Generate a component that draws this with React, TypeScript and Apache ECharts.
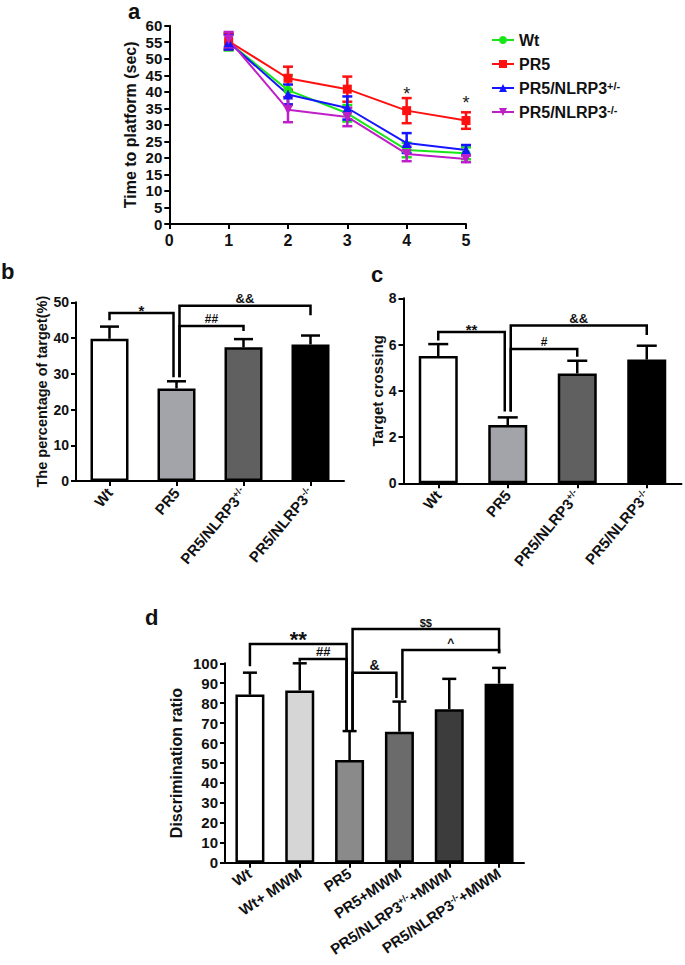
import React, { useEffect, useRef } from "react";
import * as echarts from "echarts";

const FONT = '"Liberation Sans", Arial, Helvetica, sans-serif';

// ---------- Panel a: Morris water maze escape latency ----------
const days = [1, 2, 3, 4, 5];
const groupsA = ["Wt", "PR5", "PR5/NLRP3+/-", "PR5/NLRP3-/-"];
const wtMean = [55.0, 40.5, 33.5, 22.4, 21.4];
const wtSem = [2.5, 4.5, 2.5, 2.2, 1.8];
const pr5Mean = [55.3, 44.1, 40.8, 34.3, 31.3];
const pr5Sem = [2.5, 3.5, 3.8, 3.8, 2.5];
const hetMean = [55.0, 39.2, 35.1, 24.5, 22.4];
const hetSem = [2.2, 3.0, 3.5, 3.0, 1.5];
const koMean = [55.8, 34.6, 32.4, 21.2, 19.7];
const koSem = [2.3, 3.8, 2.8, 2.2, 1.0];
const starDays = [4, 5];
const starLevels = [39.3, 36.6];
const yTicksA = { min: 0, max: 60, interval: 5 };

// ---------- Panel b: percentage of time in target quadrant ----------
const catsB = ["Wt", "PR5", "PR5/NLRP3+/-", "PR5/NLRP3-/-"];
const targetPct = [39.8, 25.9, 37.4, 38.2];
const targetPctSem = [3.4, 2.0, 2.3, 2.5];
// [fromCat, fromSide, fromDrop, toCat, toSide, toDrop, level]
const bracketsB = [
  [0, 0, 45.0, 1, -1, 29.0, 47.0],
  [1, 1, 29.0, 2, 0, 42.0, 43.4],
  [1, 1, 29.0, 3, 0, 46.4, 49.0],
];
const bracketLabelsB = ["*", "##", "&&"];

// ---------- Panel c: target crossings ----------
const catsC = ["Wt", "PR5", "PR5/NLRP3+/-", "PR5/NLRP3-/-"];
const crossing = [5.5, 2.52, 4.75, 5.35];
const crossingSem = [0.52, 0.33, 0.55, 0.6];
const bracketsC = [
  [0, 0, 6.18, 1, -1, 3.1, 6.54],
  [1, 1, 3.1, 2, 0, 5.47, 5.81],
  [1, 1, 3.1, 3, 0, 6.41, 6.82],
];
const bracketLabelsC = ["**", "#", "&&"];

// ---------- Panel d: discrimination ratio ----------
const catsD = ["Wt", "Wt+ MWM", "PR5", "PR5+MWM", "PR5/NLRP3+/-+MWM", "PR5/NLRP3-/-+MWM"];
const discrimination = [84.3, 86.4, 51.5, 65.7, 77.0, 89.8];
const discriminationSem = [11.0, 13.6, 14.5, 15.1, 15.2, 7.9];
const bracketsD = [
  [0, 0, 98.5, 2, -1, 66.5, 109.7],
  [1, 0, 100.8, 2, -1, 66.5, 102.1],
  [2, 1, 66.5, 3, -1, 82.6, 95.3],
  [2, 1, 66.5, 5, 0, 105.0, 117.2],
  [3, 1, 81.6, 5, 0, 105.0, 106.7],
];
const bracketLabelsD = ["**", "##", "&", "$$", "^"];

// ---------- styles ----------
const lineColors = ["#19e619", "#ff1010", "#1515ff", "#bf1fc8"];
const lineSymbols = ["circle", "rect", "triangle", "triangle"];
const lineSymbolRotate = [0, 0, 0, 180];
const barColorsBC = ["#ffffff", "#a3a3aa", "#606060", "#000000"];
const barColorsD = ["#ffffff", "#d6d6d6", "#8a8a8a", "#6b6b6b", "#3c3c3c", "#000000"];
const labelSizes: Record<string, number> = {
  "*": 15, "**": 15, "#": 12, "##": 12, "&": 13, "&&": 13, "$$": 11, "^": 12,
};
const labelSizesD: Record<string, number> = {
  "*": 15, "**": 22, "#": 12, "##": 13, "&": 14, "&&": 13, "$$": 11, "^": 12,
};
const ARM = 3;

const supFmt = (v: string) =>
  v.replace("+/-", "{sup|+/-}").replace("-/-", "{sup|-/-}");

const axisLine = { show: true, lineStyle: { color: "#000", width: 2 } };
const axisTick = { show: true, length: 5, lineStyle: { color: "#000", width: 2 } };

function errorSeries(
  xi: number, yi: number, xs: number[], means: number[], sems: number[],
  cap: number, color: string, both: boolean, name: string
) {
  return {
    type: "custom",
    name,
    xAxisIndex: xi,
    yAxisIndex: yi,
    silent: true,
    z: both ? 2 : 3,
    clip: false,
    data: means.map((m, i) => [xs[i], m, sems[i]]),
    renderItem: (params: any, api: any) => {
      const x = api.value(0);
      const m = api.value(1);
      const s = api.value(2);
      const top = api.coord([x, m + s]);
      const bot = api.coord([x, both ? m - s : m]);
      const style = { stroke: color, lineWidth: 2.5, fill: "none" };
      const children: any[] = [
        { type: "line", shape: { x1: top[0], y1: top[1], x2: bot[0], y2: bot[1] }, style },
        { type: "line", shape: { x1: top[0] - cap / 2, y1: top[1], x2: top[0] + cap / 2, y2: top[1] }, style },
      ];
      if (both) {
        children.push({ type: "line", shape: { x1: bot[0] - cap / 2, y1: bot[1], x2: bot[0] + cap / 2, y2: bot[1] }, style });
      }
      return { type: "group", children };
    },
  };
}

function bracketSeries(
  xi: number, yi: number, brackets: number[][], labels: string[], sizes: Record<string, number>, name: string
) {
  return {
    type: "custom",
    name,
    xAxisIndex: xi,
    yAxisIndex: yi,
    silent: true,
    z: 6,
    clip: false,
    data: brackets.map((b) => [b[0], b[6]]),
    renderItem: (params: any, api: any) => {
      const b = brackets[params.dataIndex];
      const p1 = api.coord([b[0], b[2]]);
      const p2 = api.coord([b[3], b[5]]);
      const t = api.coord([b[0], b[6]]);
      const x1 = p1[0] + b[1] * ARM;
      const x2 = p2[0] + b[4] * ARM;
      const yTop = t[1];
      const label = labels[params.dataIndex];
      const size = sizes[label] || 12;
      const isStar = label.indexOf("*") >= 0;
      return {
        type: "group",
        children: [
          {
            type: "polyline",
            shape: { points: [[x1, p1[1]], [x1, yTop], [x2, yTop], [x2, p2[1]]] },
            style: { stroke: "#000", lineWidth: 2.5, fill: "none" },
          },
          {
            type: "text",
            x: (x1 + x2) / 2,
            y: yTop + (isStar ? size * 0.3 : -1),
            style: {
              text: label,
              fill: "#111",
              font: `bold ${size}px ${FONT}`,
              textAlign: "center",
              textVerticalAlign: "bottom",
              align: "center",
              verticalAlign: "bottom",
            },
          },
        ],
      };
    },
  };
}

function starSeries() {
  return {
    type: "custom",
    name: "stars",
    xAxisIndex: 0,
    yAxisIndex: 0,
    silent: true,
    z: 6,
    clip: false,
    data: starDays.map((d, i) => [d, starLevels[i]]),
    renderItem: (params: any, api: any) => {
      const p = api.coord([api.value(0), api.value(1)]);
      return {
        type: "text",
        x: p[0],
        y: p[1],
        style: {
          text: "*",
          fill: "#222",
          font: `18px ${FONT}`,
          textAlign: "center",
          textVerticalAlign: "middle",
          align: "center",
          verticalAlign: "middle",
        },
      };
    },
  };
}

function barSeries(xi: number, yi: number, values: number[], colors: string[], width: number) {
  return {
    type: "bar",
    xAxisIndex: xi,
    yAxisIndex: yi,
    barWidth: width,
    silent: true,
    z: 2,
    data: values.map((v, i) => ({
      value: v,
      itemStyle: { color: colors[i], borderColor: "#000", borderWidth: 2.5 },
    })),
  };
}

function catAxis(grid: number, cats: string[], rotate: number, size: number) {
  return {
    gridIndex: grid,
    type: "category",
    data: cats,
    axisLine,
    axisTick: { ...axisTick, alignWithLabel: true },
    axisLabel: {
      interval: 0,
      rotate,
      margin: 9,
      color: "#111",
      fontFamily: FONT,
      fontWeight: "bold",
      fontSize: size,
      formatter: supFmt,
      rich: {
        sup: { fontSize: size * 0.62, fontWeight: "bold", fontFamily: FONT, color: "#111", verticalAlign: "top" },
      },
    },
    splitLine: { show: false },
  };
}

function valAxis(grid: number, min: number, max: number, interval: number, name: string, gap: number, nameSize: number, labelSize: number) {
  return {
    gridIndex: grid,
    type: "value",
    min,
    max,
    interval,
    name,
    nameLocation: "middle",
    nameGap: gap,
    nameTextStyle: { fontFamily: FONT, fontWeight: "bold", fontSize: nameSize, color: "#111" },
    axisLine,
    axisTick,
    axisLabel: { margin: 7, color: "#111", fontFamily: FONT, fontWeight: "bold", fontSize: labelSize },
    splitLine: { show: false },
  };
}

function buildOption() {
  const groupMeans = [wtMean, pr5Mean, hetMean, koMean];
  const groupSems = [wtSem, pr5Sem, hetSem, koSem];

  const lineSeries = groupsA.map((g, k) => ({
    type: "line",
    name: g,
    xAxisIndex: 0,
    yAxisIndex: 0,
    z: 4,
    data: days.map((d, i) => [d, groupMeans[k][i]]),
    symbol: lineSymbols[k],
    symbolRotate: lineSymbolRotate[k],
    symbolSize: k <= 1 ? 9 : 10,
    lineStyle: { color: lineColors[k], width: 2 },
    itemStyle: { color: lineColors[k] },
  }));
  const lineErr = groupsA.map((g, k) =>
    errorSeries(0, 0, days, groupMeans[k], groupSems[k], 10, lineColors[k], true, g + " err")
  );

  return {
    animation: false,
    backgroundColor: "#ffffff",
    textStyle: { fontFamily: FONT },
    grid: [
      { left: 169.3, top: 25.7, width: 296.7, height: 198.3 },
      { left: 76, top: 302.3, width: 268, height: 178.7 },
      { left: 403.5, top: 298.3, width: 278, height: 185 },
      { left: 225, top: 663.3, width: 299, height: 199.4 },
    ],
    legend: {
      orient: "vertical",
      left: 486,
      top: 27,
      itemWidth: 22,
      itemHeight: 10,
      itemGap: 8,
      data: groupsA,
      formatter: supFmt,
      selectedMode: false,
      textStyle: {
        fontFamily: FONT,
        fontWeight: "bold",
        fontSize: 16,
        color: "#111",
        rich: {
          sup: { fontFamily: FONT, fontWeight: "bold", fontSize: 11, color: "#111", verticalAlign: "top" },
        },
      },
    },
    xAxis: [
      {
        gridIndex: 0,
        type: "value",
        min: 0,
        max: 5,
        interval: 1,
        axisLine,
        axisTick,
        axisLabel: { margin: 8, color: "#111", fontFamily: FONT, fontWeight: "bold", fontSize: 16 },
        splitLine: { show: false },
      },
      catAxis(1, catsB, 50, 15),
      catAxis(2, catsC, 50, 15),
      catAxis(3, catsD, 34, 15),
    ],
    yAxis: [
      valAxis(0, yTicksA.min, yTicksA.max, yTicksA.interval, "Time to platform (sec)", 31, 16, 15),
      valAxis(1, 0, 50, 10, "The percentage of target(%)", 27, 14.5, 14),
      valAxis(2, 0, 8, 2, "Target crossing", 18, 15, 14),
      valAxis(3, 0, 100, 10, "Discrimination ratio", 41, 16, 15),
    ],
    series: [
      ...lineErr,
      ...lineSeries,
      starSeries(),
      barSeries(1, 1, targetPct, barColorsBC, 38),
      errorSeries(1, 1, [0, 1, 2, 3], targetPct, targetPctSem, 19, "#000", false, "b err"),
      bracketSeries(1, 1, bracketsB, bracketLabelsB, labelSizes, "b brackets"),
      barSeries(2, 2, crossing, barColorsBC, 39),
      errorSeries(2, 2, [0, 1, 2, 3], crossing, crossingSem, 20, "#000", false, "c err"),
      bracketSeries(2, 2, bracketsC, bracketLabelsC, labelSizes, "c brackets"),
      barSeries(3, 3, discrimination, barColorsD, 29),
      errorSeries(3, 3, [0, 1, 2, 3, 4, 5], discrimination, discriminationSem, 14, "#000", false, "d err"),
      bracketSeries(3, 3, bracketsD, bracketLabelsD, labelSizesD, "d brackets"),
    ],
    graphic: [
      { type: "text", left: 128, top: 0, style: { text: "a", font: `bold 22px ${FONT}`, fill: "#111" } },
      { type: "text", left: 1, top: 260, style: { text: "b", font: `bold 22px ${FONT}`, fill: "#111" } },
      { type: "text", left: 371, top: 263, style: { text: "c", font: `bold 22px ${FONT}`, fill: "#111" } },
      { type: "text", left: 145, top: 606, style: { text: "d", font: `bold 22px ${FONT}`, fill: "#111" } },
    ],
  };
}

export default function App() {
  const ref = useRef<HTMLDivElement>(null);
  useEffect(() => {
    document.body.style.margin = "0";
    const chart = echarts.init(ref.current as HTMLDivElement, null, { renderer: "svg" });
    chart.setOption(buildOption() as any);
    return () => chart.dispose();
  }, []);
  return <div ref={ref} style={{ width: 685, height: 965 }} />;
}
